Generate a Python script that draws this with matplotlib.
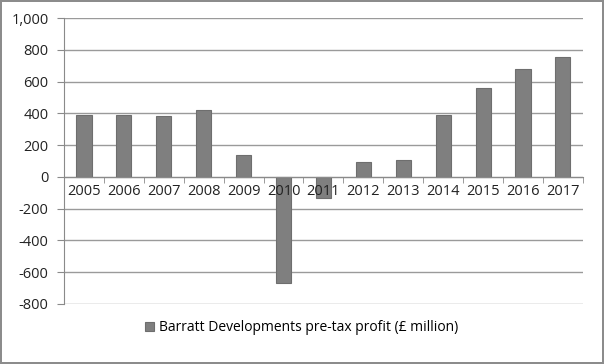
import matplotlib.pyplot as plt
import numpy as np
from matplotlib.ticker import FuncFormatter

years = ['2005', '2006', '2007', '2008', '2009', '2010', '2011',
         '2012', '2013', '2014', '2015', '2016', '2017']
profit = [388, 388, 382, 420, 138, -668, -130, 96, 105, 388, 562, 679, 757]
yticks = [-800, -600, -400, -200, 0, 200, 400, 600, 800, 1000]
label = 'Barratt Developments pre-tax profit (£ million)'

plt.rcParams['font.family'] = ['Open Sans', 'DejaVu Sans']

fig = plt.figure(figsize=(6.04, 3.64), dpi=100)
fig.patch.set_edgecolor('#8c8c8c')
fig.patch.set_linewidth(1.5)
ax = fig.add_axes([0.106, 0.165, 0.859, 0.7855])

x = np.arange(len(years))
ax.bar(x, profit, width=0.38, color='#7f7f7f', edgecolor='#6e6e6e',
       linewidth=0.8, label=label, zorder=2)

ax.set_xlim(-0.5, len(years) - 0.5)
ax.set_ylim(-800, 1000)
ax.set_yticks(yticks)
ax.yaxis.set_major_formatter(FuncFormatter(lambda v, p: f'{int(v):,}'))
ax.grid(axis='y', color='#9a9a9a', linewidth=1)
ax.yaxis.set_zorder(1)

# category axis crosses at zero, labels sit on top of the bars
for s in ['top', 'right']:
    ax.spines[s].set_visible(False)
ax.spines['bottom'].set_position(('data', 0))
ax.spines['bottom'].set_color('#8a8a8a')
ax.spines['left'].set_color('#8a8a8a')
ax.spines['bottom'].set_zorder(3)
ax.xaxis.set_zorder(4)

ax.set_xticks(x)
ax.set_xticklabels(years)
ax.set_xticks(np.arange(len(years) + 1) - 0.5, minor=True)
ax.tick_params(axis='x', which='major', length=0, pad=5, labelsize=10.5,
               labelcolor='#222222')
ax.tick_params(axis='x', which='minor', length=4, color='#8a8a8a', direction='out')
ax.tick_params(axis='y', length=5, color='#8a8a8a', labelsize=10.5,
               labelcolor='#222222', pad=6)

fig.legend(loc='center', bbox_to_anchor=(0.5, 0.1), frameon=False,
           fontsize=10, handlelength=0.6, handleheight=0.6, handletextpad=0.4)

fig.savefig('out.png', dpi=100)
